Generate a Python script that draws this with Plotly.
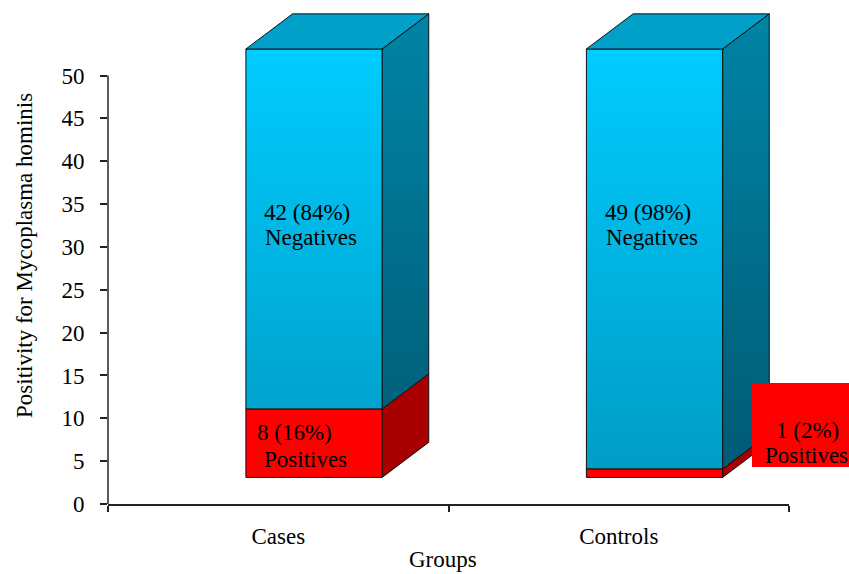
import plotly.graph_objects as go

# ---- data -------------------------------------------------------------
groups = ["Cases", "Controls"]
positives = [8, 1]
negatives = [42, 49]
positive_pct = [16, 2]
negative_pct = [84, 98]
y_tick_values = [0, 5, 10, 15, 20, 25, 30, 35, 40, 45, 50]

# ---- page geometry ----------------------------------------------------
W, H = 849, 574
L, R, T, B = 108, 60, 7, 70
FONT = "Liberation Serif"
FS = 23


def paper_x(px):
    return (px - L) / (W - L - R)


def paper_y(py):
    return (H - B - py) / (H - T - B)


# ---- 3-D column geometry (data units) ---------------------------------
BASE = 3.1        # columns stand on a raised floor
FRONT_X0 = 0.405  # left edge of the front face inside each category slot
WIDTH = 0.4
DX = 0.137        # depth offset to the right
DY = 4.1          # depth offset upwards

RED_FRONT = "#ff0000"
RED_SIDE = "#a80000"
BLUE_TOP = "#00a0c8"

totals = [p + n for p, n in zip(positives, negatives)]
top_val = BASE + max(totals)

front_grad = dict(type="vertical", start=BASE, stop=top_val,
                  colorscale=[[0, "#009cc4"], [1, "#00ccff"]])
side_grad = dict(type="vertical", start=BASE, stop=top_val + DY,
                 colorscale=[[0, "#005a74"], [1, "#0084a6"]])

fig = go.Figure()


def face(xs, ys, color=None, grad=None):
    kw = dict(x=xs, y=ys, mode="lines", fill="toself",
              line=dict(color="#111111", width=1),
              hoverinfo="skip", showlegend=False)
    if grad is not None:
        kw["fillgradient"] = grad
    else:
        kw["fillcolor"] = color
    fig.add_trace(go.Scatter(**kw))


for i, g in enumerate(groups):
    xl = i + FRONT_X0
    xr = xl + WIDTH
    segments = [
        (0, positives[i], dict(color=RED_FRONT), dict(color=RED_SIDE)),
        (positives[i], totals[i], dict(grad=front_grad), dict(grad=side_grad)),
    ]
    for lo, hi, front_style, side_style in segments:
        y0, y1 = BASE + lo, BASE + hi
        face([xr, xr + DX, xr + DX, xr, xr],
             [y0, y0 + DY, y1 + DY, y1, y0], **side_style)
        face([xl, xr, xr, xl, xl], [y0, y0, y1, y1, y0], **front_style)
    yt = BASE + totals[i]
    face([xl, xr, xr + DX, xl + DX, xl], [yt, yt, yt + DY, yt + DY, yt],
         color=BLUE_TOP)

# ---- value labels -----------------------------------------------------
annotations = []


def label(x, y, text, xref="x", yref="y"):
    annotations.append(dict(x=x, y=y, xref=xref, yref=yref, text=text,
                            showarrow=False, xanchor="center", yanchor="middle",
                            font=dict(family=FONT, size=FS, color="#000000")))


for i in range(len(groups)):
    label(i + 0.585, 34.0, f"{negatives[i]} ({negative_pct[i]}%)")
    label(i + 0.597, 31.1, "Negatives")

# positives on Cases sit inside the red segment
label(0 + 0.547, 8.3, f"{positives[0]} ({positive_pct[0]}%)")
label(0 + 0.581, 5.2, "Positives")

# positives on Controls are boxed beside the column
fig.add_shape(type="rect", xref="paper", yref="paper",
              x0=paper_x(752), x1=paper_x(872), y0=paper_y(467), y1=paper_y(383),
              fillcolor=RED_FRONT, line=dict(width=0), layer="above")
label(paper_x(807), paper_y(430), f"{positives[1]} ({positive_pct[1]}%)",
      xref="paper", yref="paper")
label(paper_x(806), paper_y(455), "Positives", xref="paper", yref="paper")

# axis titles
annotations.append(dict(x=paper_x(24), y=paper_y(256), xref="paper", yref="paper",
                        text="Positivity for Mycoplasma hominis", textangle=-90,
                        showarrow=False, xanchor="center", yanchor="middle",
                        font=dict(family=FONT, size=FS, color="#000000")))
annotations.append(dict(x=paper_x(443), y=paper_y(559), xref="paper", yref="paper",
                        text="Groups", showarrow=False,
                        xanchor="center", yanchor="middle",
                        font=dict(family=FONT, size=FS, color="#000000")))

# vertical axis line only over the labelled range
fig.add_shape(type="line", xref="paper", yref="y", x0=0, x1=0,
              y0=0, y1=max(y_tick_values),
              line=dict(color="#222222", width=1.5))

fig.update_layout(
    width=W, height=H, autosize=False,
    margin=dict(l=L, r=R, t=T, b=B),
    paper_bgcolor="#ffffff", plot_bgcolor="rgba(0,0,0,0)",
    font=dict(family=FONT, size=FS, color="#000000"),
    annotations=annotations,
    xaxis=dict(range=[0, 2], tickvals=[0.5, 1.5], ticktext=groups,
               ticks="", showgrid=False, zeroline=False,
               showline=True, linecolor="#222222", linewidth=1.5,
               ticklabelstandoff=11,
               minor=dict(tickvals=[0, 1, 2], ticks="outside", ticklen=6,
                          tickcolor="#222222", tickwidth=1.5, showgrid=False),
               tickfont=dict(family=FONT, size=FS, color="#000000")),
    yaxis=dict(range=[0, 58], tickvals=y_tick_values, ticks="outside",
               ticklen=7, tickcolor="#222222", tickwidth=1.5,
               showgrid=False, zeroline=False, showline=False,
               ticklabelstandoff=11,
               tickfont=dict(family=FONT, size=FS, color="#000000")),
)

fig.write_html("out.html")
